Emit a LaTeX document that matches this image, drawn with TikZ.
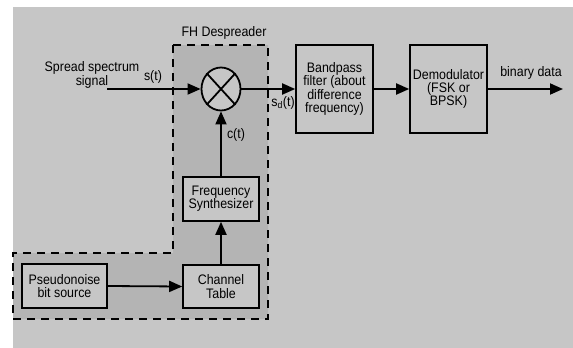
\documentclass[tikz,border=0pt]{standalone}
\usepackage{fontspec}
\setmainfont{Liberation Sans}[FakeStretch=0.9]
\usetikzlibrary{arrows.meta,shapes.geometric}
\definecolor{bg}{HTML}{C6C6C6}
\definecolor{desp}{HTML}{B4B4B4}
\begin{document}
\begin{tikzpicture}[x=1pt,y=-1pt,
  txt/.style={font=\fontsize{13.8}{13.3}\selectfont, inner sep=0pt, align=center},
  blk/.style={draw, line width=1.6pt, fill=bg, rectangle, inner sep=0pt, align=center,
    font=\fontsize{13.8}{13.3}\selectfont},
  arr/.style={line width=1.8pt, -{Triangle[length=13pt,width=11pt]}},
  ln/.style={line width=1.8pt}]
\useasboundingbox (0,0) rectangle (573,348);
\fill[white] (0,0) rectangle (573,348);
\fill[bg] (13,7) rectangle (573,348);
% despreader region
\draw[fill=desp, line width=1.6pt, dash pattern=on 8pt off 6pt]
  (173,45) -- (268,45) -- (268,319) -- (13,319) -- (13,253) -- (173,253) -- cycle;
\node[txt] (fhlab) at (224,33) {FH Despreader};
% mixer
\node[draw, ellipse, line width=1.8pt, fill=bg, minimum width=39pt, minimum height=43pt, inner sep=0pt] (mix) at (221,89) {};
\draw[ln] (mix.north east) -- (mix.south west);
\draw[ln] (mix.north west) -- (mix.south east);
% blocks
\node[blk, minimum width=76pt, minimum height=44pt] (fs) at (221,199) {Frequency\\Synthesizer};
\node[blk, minimum width=76pt, minimum height=43pt] (ct) at (221,286.5) {Channel\\Table};
\node[blk, minimum width=85pt, minimum height=44pt] (pn) at (64.5,286) {Pseudonoise\\bit source};
\node[blk, minimum width=77pt, minimum height=88pt] (bp) at (334.5,89) {Bandpass\\filter (about\\difference\\frequency)};
\node[blk, minimum width=77pt, minimum height=88pt] (dm) at (448.5,89) {Demodulator\\(FSK or\\BPSK)};
% input
\coordinate (in) at (107,89);
\coordinate (out) at (563,89);
\node[txt] (sslab) at (92,75) {Spread spectrum\\signal};
\node[txt] (stlab) at (153,77) {s(t)};
\node[txt] (sdlab) at (283,103) {s\textsubscript{d}(t)};
\node[txt] (ctlab) at (236,135) {c(t)};
\node[txt] (bdlab) at (531,73) {binary data};
% connectors
\draw[arr] (in) -- (mix.west);
\draw[arr] (mix.east) -- (bp.west);
\draw[arr] (bp.east) -- (dm.west);
\draw[arr] (dm.east) -- (out);
\draw[arr] (fs.north) -- (mix.south);
\draw[arr] (ct.north) -- (fs.south);
\draw[arr] (pn.east) -- (ct.west);
\end{tikzpicture}
\end{document}
